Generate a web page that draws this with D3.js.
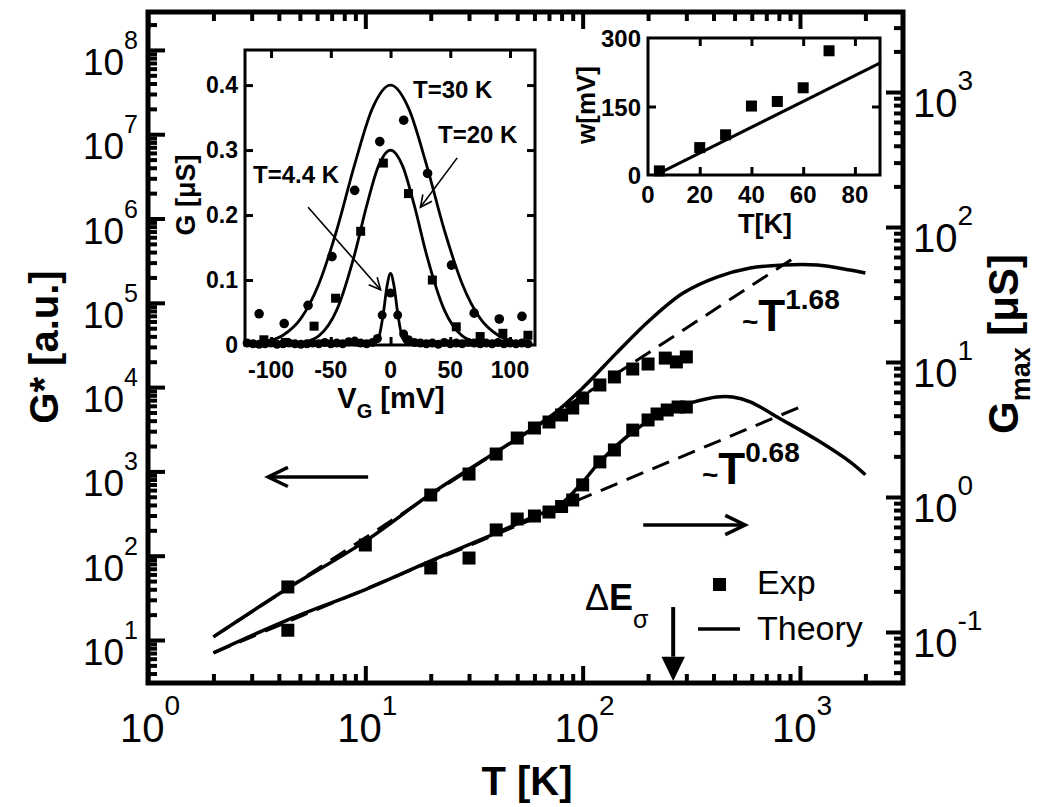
<!DOCTYPE html>
<html>
<head>
<meta charset="utf-8">
<script src="https://cdn.jsdelivr.net/npm/d3@7"></script>
<style>
  html, body { margin: 0; padding: 0; background: #fff; overflow: hidden; }
  svg { display: block; }
  text { font-family: "Liberation Sans", Arial, Helvetica, sans-serif; fill: #000; }
</style>
</head>
<body>
<svg id="chart"></svg>
<script>
// ---- main panel: experiment ----
const upperT = [4.4, 10, 20, 30, 40, 50, 60, 70, 80, 90, 100, 120, 140, 170, 200, 240, 270, 300];
const upperG = [42.6, 134, 525, 931, 1608, 2489, 3273, 3855, 4670, 5650, 7430, 10600, 13200, 16400, 18800, 22100, 19900, 22800];
const lowerT = [4.4, 20, 30, 40, 50, 60, 70, 80, 90, 100, 120, 140, 170, 200, 220, 245, 275, 300];
const lowerG = [0.103, 0.298, 0.353, 0.570, 0.687, 0.723, 0.774, 0.85, 0.95, 1.23, 1.82, 2.23, 3.13, 3.72, 4.12, 4.41, 4.64, 4.64];

// ---- main panel: theory ----
const thUpT = [2, 4.4, 10, 20, 40, 70.6, 100, 143, 204, 290, 415, 590, 840, 1200, 1700, 2000];
const thUpG = [10.9, 41, 149, 540, 1700, 4420, 9750, 25300, 62500, 130600, 202000, 259000, 281000, 281000, 245000, 226000];
const thLowT = [2, 4.4, 10, 20, 40, 59, 78.5, 100, 120, 170, 245, 312, 414, 490, 590, 830, 1200, 1700, 2000];
const thLowG = [0.070, 0.123, 0.206, 0.336, 0.541, 0.711, 0.873, 1.29, 1.82, 3.03, 4.41, 4.97, 5.51, 5.51, 5.06, 3.72, 2.64, 1.82, 1.46];
// power laws (dashed), end points
const dashUpT = [2, 950], dashUpG = [10.9, 349000];
const dashLowT = [2, 1000], dashLowG = [0.070, 4.64];

// ---- inset 1: G vs VG ----
const v30 = [-110, -89, -69, -49, -30, -9, 11, 31, 51, 70, 91, 110];
const g30 = [0.048, 0.033, 0.061, 0.136, 0.238, 0.313, 0.346, 0.264, 0.123, 0.049, 0.040, 0.044];
const v20 = [-106, -88, -64, -46, -25, -6, 15, 35, 55, 75, 94, 115];
const g20 = [0.008, 0.004, 0.029, 0.072, 0.175, 0.28, 0.233, 0.10, 0.028, 0.013, 0.018, 0.015];
const v44 = [-120, -115, -110, -105, -100, -95, -90, -85, -80, -75, -70, -65, -60, -55, -50, -45, -40, -35, -30, -25, -20, -15,
             -11, -7, 0, 6, 11,
             15, 20, 25, 30, 35, 40, 45, 50, 55, 60, 65, 70, 75, 80, 85, 90, 95, 100, 105, 110, 115, 120];
const g44 = [0.003, 0.002, 0.001, 0.002, 0.003, 0.001, 0.002, 0.003, 0.002, 0.001, 0.002, 0.003, 0.002, 0.004, 0.002, 0.003, 0.002, 0.005, 0.006, 0.003, 0.002, 0.004,
             0.010, 0.046, 0.080, 0.046, 0.017,
             0.008, 0.004, 0.003, 0.002, 0.003, 0.001, 0.004, 0.002, 0.003, 0.002, 0.004, 0.003, 0.002, 0.003, 0.002, 0.004, 0.002, 0.003, 0.002, 0.003, 0.002];
const fit30V = [-105, -90, -75, -60, -45, -30, -15, 0, 15, 30, 45, 60, 75, 90, 105];
const fit30G = [0.005, 0.015, 0.041, 0.094, 0.177, 0.278, 0.365, 0.40, 0.365, 0.278, 0.177, 0.094, 0.041, 0.015, 0.005];
const fit20V = [-75, -60, -45, -30, -20, -10, 0, 10, 20, 30, 45, 60, 75];
const fit20G = [0.003, 0.014, 0.054, 0.140, 0.214, 0.276, 0.30, 0.276, 0.214, 0.140, 0.054, 0.014, 0.003];
const fit44V = [-30, -15, -10, -6, -3, 0, 3, 6, 10, 15, 30];
const fit44G = [0, 0.001, 0.011, 0.049, 0.090, 0.11, 0.090, 0.049, 0.011, 0.001, 0];

// ---- inset 2: width vs T ----
const wT = [4.4, 20, 30, 40, 50, 60, 70];
const wMV = [9, 60, 88, 151, 161, 191, 272];
const wFitT = [4.4, 90], wFitMV = [4, 246];

// tick labels
const xExps = [0, 1, 2, 3];
const yLeftExps = [1, 2, 3, 4, 5, 6, 7, 8];
const yRightExps = [-1, 0, 1, 2, 3];
const in1X = [-100, -50, 0, 50, 100];
const in1Y = [0, 0.1, 0.2, 0.3, 0.4];
const in2X = [0, 20, 40, 60, 80];
const in2Y = [0, 150, 300];

const W = 1048, H = 807;
const svg = d3.select("#chart").attr("width", W).attr("height", H);
svg.append("rect").attr("width", W).attr("height", H).attr("fill", "#fff");

const fr = { left: 148, right: 903, top: 12, bottom: 683 };

const x = d3.scaleLog().domain([1, 2979]).range([fr.left, fr.right]);
const yL = d3.scaleLog().domain([3.09, 2.818e8]).range([fr.bottom, fr.top]);
const yR = d3.scaleLog().domain([0.04188, 3917]).range([fr.bottom, fr.top]);

function minors(dom) {
  const out = [];
  for (let e = -3; e <= 9; e++)
    for (let m = 2; m <= 9; m++) {
      const v = m * Math.pow(10, e);
      if (v >= dom[0] && v <= dom[1]) out.push(v);
    }
  return out;
}
const pow10 = e => Math.pow(10, e);

// inward ticks only, labels are drawn separately
function ticks(axisFn, scale, values, size, width, transform) {
  const g = svg.append("g").attr("transform", transform)
    .call(axisFn(scale).tickValues(values).tickSize(size).tickFormat(""));
  g.select(".domain").remove();
  g.selectAll(".tick text").remove();
  g.selectAll(".tick line").attr("stroke", "#000").attr("stroke-width", width);
  return g;
}

// main ticks
ticks(d3.axisTop, x, xExps.map(pow10), 17, 4, `translate(0,${fr.bottom})`);
ticks(d3.axisTop, x, minors(x.domain()), 9, 4, `translate(0,${fr.bottom})`);
ticks(d3.axisBottom, x, xExps.map(pow10), 17, 4, `translate(0,${fr.top})`);
ticks(d3.axisBottom, x, minors(x.domain()), 9, 4, `translate(0,${fr.top})`);
ticks(d3.axisRight, yL, yLeftExps.map(pow10), 17, 4, `translate(${fr.left},0)`);
ticks(d3.axisRight, yL, minors(yL.domain()), 9, 4, `translate(${fr.left},0)`);
ticks(d3.axisLeft, yR, yRightExps.map(pow10), 17, 4, `translate(${fr.right},0)`);
ticks(d3.axisLeft, yR, minors(yR.domain()), 9, 4, `translate(${fr.right},0)`);

function powLabel(px, py, exp, base, sup, anchor, supDy) {
  const t = svg.append("text").attr("x", px).attr("y", py)
    .attr("text-anchor", anchor).attr("font-size", base);
  t.append("tspan").text("10");
  t.append("tspan").attr("font-size", sup).attr("dy", -supDy).text(exp);
}
xExps.forEach(e => powLabel(x(pow10(e)) + 2, 742, e, 40, 28, "middle", 27));
yLeftExps.forEach(e => powLabel(138, yL(pow10(e)) + 25, e, 37, 25, "end", 26));
yRightExps.forEach(e => powLabel(913, yR(pow10(e)) + 25, e, 40, 28, "start", 27));

// axis titles
svg.append("text").attr("x", 527).attr("y", 795).attr("text-anchor", "middle")
  .attr("font-weight", "bold").attr("font-size", 40).text("T [K]");
svg.append("text").attr("transform", "translate(58,347) rotate(-90)").attr("text-anchor", "middle")
  .attr("font-weight", "bold").attr("font-size", 40).text("G* [a.u.]");
const rt = svg.append("text").attr("transform", "translate(1018,344) rotate(-90)").attr("text-anchor", "middle")
  .attr("font-weight", "bold").attr("font-size", 42);
rt.append("tspan").text("G");
rt.append("tspan").attr("font-size", 27).attr("dy", 12).text("max");
rt.append("tspan").attr("dy", -12).text(" [μS]");

// curves
const zip = (a, b) => a.map((d, i) => [d, b[i]]);
const lineL = d3.line().x(d => x(d[0])).y(d => yL(d[1])).curve(d3.curveCatmullRom.alpha(0.5));
const lineR = d3.line().x(d => x(d[0])).y(d => yR(d[1])).curve(d3.curveCatmullRom.alpha(0.5));

svg.append("path").attr("d", lineL(zip(dashUpT, dashUpG)))
  .attr("fill", "none").attr("stroke", "#000").attr("stroke-width", 3).attr("stroke-dasharray", "18,10");
svg.append("path").attr("d", lineR(zip(dashLowT, dashLowG)))
  .attr("fill", "none").attr("stroke", "#000").attr("stroke-width", 3).attr("stroke-dasharray", "18,10");
svg.append("path").attr("d", lineL(zip(thUpT, thUpG)))
  .attr("fill", "none").attr("stroke", "#000").attr("stroke-width", 3.5);
svg.append("path").attr("d", lineR(zip(thLowT, thLowG)))
  .attr("fill", "none").attr("stroke", "#000").attr("stroke-width", 3.5);

const sq = 13;
svg.append("g").selectAll("rect").data(zip(upperT, upperG)).join("rect")
  .attr("x", d => x(d[0]) - sq / 2).attr("y", d => yL(d[1]) - sq / 2)
  .attr("width", sq).attr("height", sq).attr("fill", "#000");
svg.append("g").selectAll("rect").data(zip(lowerT, lowerG)).join("rect")
  .attr("x", d => x(d[0]) - sq / 2).attr("y", d => yR(d[1]) - sq / 2)
  .attr("width", sq).attr("height", sq).attr("fill", "#000");

// arrows
function arrow(x1, y1, x2, y2, len, width, filled) {
  const a = Math.atan2(y2 - y1, x2 - x1), da = 0.45;
  const p1 = [x2 - len * Math.cos(a - da), y2 - len * Math.sin(a - da)];
  const p2 = [x2 - len * Math.cos(a + da), y2 - len * Math.sin(a + da)];
  if (filled) {
    const bx = x2 - len * 0.9 * Math.cos(a), by = y2 - len * 0.9 * Math.sin(a);
    svg.append("line").attr("x1", x1).attr("y1", y1).attr("x2", bx).attr("y2", by)
      .attr("stroke", "#000").attr("stroke-width", width);
    svg.append("path").attr("d", `M${x2},${y2}L${p1}L${bx},${by}L${p2}Z`).attr("fill", "#000");
  } else {
    svg.append("line").attr("x1", x1).attr("y1", y1).attr("x2", x2).attr("y2", y2)
      .attr("stroke", "#000").attr("stroke-width", width);
    svg.append("path").attr("d", `M${p1}L${x2},${y2}L${p2}`)
      .attr("fill", "none").attr("stroke", "#000").attr("stroke-width", width);
  }
}
arrow(x(10.3), yL(859), x(3.57), yL(859), 22, 3.5, false);
arrow(x(190), yR(0.62), x(559), yR(0.62), 22, 3.5, false);
arrow(x(261), yR(0.153), x(261), fr.bottom - 2, 27, 4, true);

// power-law labels
const t1 = svg.append("text").attr("x", 742).attr("y", 331).attr("font-weight", "bold");
t1.append("tspan").attr("font-size", 28).text("~");
t1.append("tspan").attr("font-size", 44).text("T");
t1.append("tspan").attr("font-size", 28).attr("dy", -22).text("1.68");
const t2 = svg.append("text").attr("x", 702).attr("y", 484).attr("font-weight", "bold");
t2.append("tspan").attr("font-size", 28).text("~");
t2.append("tspan").attr("font-size", 44).text("T");
t2.append("tspan").attr("font-size", 28).attr("dy", -22).text("0.68");

// Delta E sigma
const de = svg.append("text").attr("x", 585).attr("y", 610).attr("font-size", 36);
de.append("tspan").text("Δ");
de.append("tspan").attr("font-weight", "bold").text("E");
de.append("tspan").attr("font-size", 25).attr("dy", 18).text("σ");

// legend
svg.append("rect").attr("x", 713).attr("y", 578).attr("width", 13).attr("height", 13).attr("fill", "#000");
svg.append("text").attr("x", 757).attr("y", 594).attr("font-size", 34).text("Exp");
svg.append("line").attr("x1", 698).attr("x2", 740).attr("y1", 629).attr("y2", 629)
  .attr("stroke", "#000").attr("stroke-width", 3.5);
svg.append("text").attr("x", 757).attr("y", 640).attr("font-size", 34).text("Theory");

svg.append("rect").attr("x", fr.left).attr("y", fr.top)
  .attr("width", fr.right - fr.left).attr("height", fr.bottom - fr.top)
  .attr("fill", "none").attr("stroke", "#000").attr("stroke-width", 5);

// ---- inset 1 ----
const i1 = { left: 245, right: 535, top: 50, bottom: 345 };
const vx = d3.scaleLinear().domain([-121.8, 120.9]).range([i1.left, i1.right]);
const gy = d3.scaleLinear().domain([0, 0.454]).range([i1.bottom, i1.top]);

ticks(d3.axisTop, vx, in1X, 8, 3, `translate(0,${i1.bottom})`);
ticks(d3.axisBottom, vx, in1X, 8, 3, `translate(0,${i1.top})`);
ticks(d3.axisRight, gy, in1Y.slice(1), 8, 3, `translate(${i1.left},0)`);
ticks(d3.axisLeft, gy, in1Y.slice(1), 8, 3, `translate(${i1.right},0)`);

svg.append("g").selectAll("text").data(in1X).join("text")
  .attr("x", d => vx(d)).attr("y", 378).attr("text-anchor", "middle")
  .attr("font-weight", "bold").attr("font-size", 23).text(d => d);
svg.append("g").selectAll("text").data(in1Y).join("text")
  .attr("x", 238).attr("y", d => gy(d) + 8).attr("text-anchor", "end")
  .attr("font-weight", "bold").attr("font-size", 23).text(d => d === 0 ? "0" : d.toFixed(1));

const vt = svg.append("text").attr("x", 391).attr("y", 408).attr("text-anchor", "middle")
  .attr("font-weight", "bold").attr("font-size", 29);
vt.append("tspan").text("V");
vt.append("tspan").attr("font-size", 20).attr("dy", 10).text("G");
vt.append("tspan").attr("dy", -10).text(" [mV]");
svg.append("text").attr("transform", "translate(195,195) rotate(-90)").attr("text-anchor", "middle")
  .attr("font-weight", "bold").attr("font-size", 27).text("G [μS]");

const lineI1 = d3.line().x(d => vx(d[0])).y(d => gy(d[1])).curve(d3.curveMonotoneX);
[[fit30V, fit30G], [fit20V, fit20G], [fit44V, fit44G]].forEach(([a, b]) => {
  svg.append("path").attr("d", lineI1(zip(a, b)))
    .attr("fill", "none").attr("stroke", "#000").attr("stroke-width", 2.8);
});

svg.append("g").selectAll("circle").data(zip(v44, g44)).join("circle")
  .attr("cx", d => vx(d[0])).attr("cy", d => gy(d[1])).attr("r", 4.5).attr("fill", "#000");
svg.append("g").selectAll("circle").data(zip(v30, g30)).join("circle")
  .attr("cx", d => vx(d[0])).attr("cy", d => gy(d[1])).attr("r", 4.8).attr("fill", "#000");
const sq1 = 9;
svg.append("g").selectAll("rect").data(zip(v20, g20)).join("rect")
  .attr("x", d => vx(d[0]) - sq1 / 2).attr("y", d => gy(d[1]) - sq1 / 2)
  .attr("width", sq1).attr("height", sq1).attr("fill", "#000");

svg.append("text").attr("x", 413).attr("y", 98).attr("font-weight", "bold").attr("font-size", 24).text("T=30 K");
svg.append("text").attr("x", 438).attr("y", 143).attr("font-weight", "bold").attr("font-size", 24).text("T=20 K");
svg.append("text").attr("x", 253).attr("y", 183).attr("font-weight", "bold").attr("font-size", 24).text("T=4.4 K");
arrow(vx(55.8), gy(0.288), vx(25), gy(0.212), 13, 1.6, false);
arrow(vx(-69), gy(0.212), vx(-8.3), gy(0.085), 13, 1.6, false);

svg.append("rect").attr("x", i1.left).attr("y", i1.top)
  .attr("width", i1.right - i1.left).attr("height", i1.bottom - i1.top)
  .attr("fill", "none").attr("stroke", "#000").attr("stroke-width", 3);

// ---- inset 2 ----
const i2 = { left: 648, right: 880, top: 38, bottom: 175 };
const wx = d3.scaleLinear().domain([0, 89.7]).range([i2.left, i2.right]);
const wy = d3.scaleLinear().domain([0, 300]).range([i2.bottom, i2.top]);

ticks(d3.axisTop, wx, in2X.slice(1), 8, 3, `translate(0,${i2.bottom})`);
ticks(d3.axisBottom, wx, in2X.slice(1), 8, 3, `translate(0,${i2.top})`);
ticks(d3.axisRight, wy, [150], 8, 3, `translate(${i2.left},0)`);
ticks(d3.axisLeft, wy, [150], 8, 3, `translate(${i2.right},0)`);

svg.append("g").selectAll("text").data(in2X).join("text")
  .attr("x", d => wx(d)).attr("y", 203).attr("text-anchor", "middle")
  .attr("font-weight", "bold").attr("font-size", 24).text(d => d);
svg.append("g").selectAll("text").data(in2Y).join("text")
  .attr("x", 641).attr("y", d => wy(d) + 9).attr("text-anchor", "end")
  .attr("font-weight", "bold").attr("font-size", 24).text(d => d);
svg.append("text").attr("x", 765).attr("y", 233).attr("text-anchor", "middle")
  .attr("font-weight", "bold").attr("font-size", 27).text("T[K]");
svg.append("text").attr("transform", "translate(595,105) rotate(-90)").attr("text-anchor", "middle")
  .attr("font-weight", "bold").attr("font-size", 26).text("w[mV]");

svg.append("path").attr("d", d3.line().x(d => wx(d[0])).y(d => wy(d[1]))(zip(wFitT, wFitMV)))
  .attr("fill", "none").attr("stroke", "#000").attr("stroke-width", 3);
const sq2 = 11;
svg.append("g").selectAll("rect").data(zip(wT, wMV)).join("rect")
  .attr("x", d => wx(d[0]) - sq2 / 2).attr("y", d => wy(d[1]) - sq2 / 2)
  .attr("width", sq2).attr("height", sq2).attr("fill", "#000");

svg.append("rect").attr("x", i2.left).attr("y", i2.top)
  .attr("width", i2.right - i2.left).attr("height", i2.bottom - i2.top)
  .attr("fill", "none").attr("stroke", "#000").attr("stroke-width", 3);

// keep the strip above the frame clean
svg.append("rect").attr("x", 0).attr("y", 0).attr("width", W).attr("height", 9).attr("fill", "#fff");
</script>
</body>
</html>
